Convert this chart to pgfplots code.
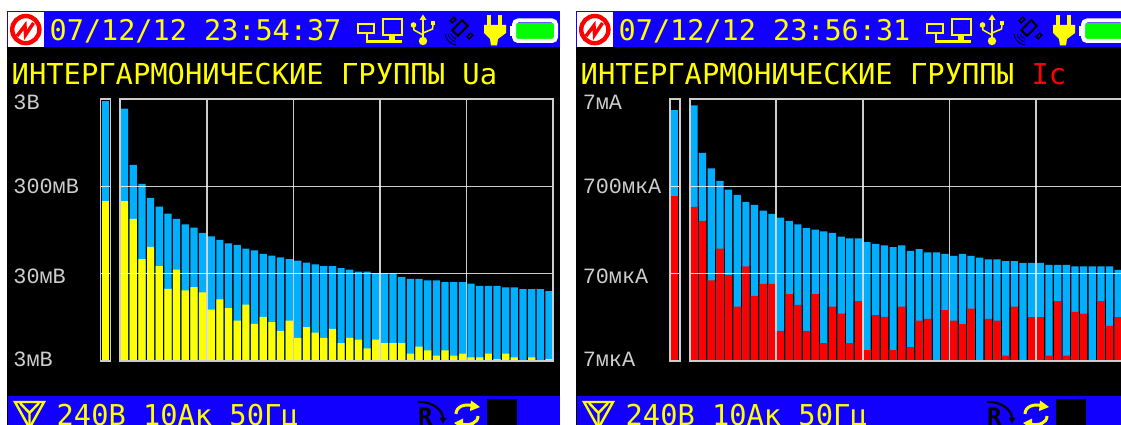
\documentclass[border=0pt]{standalone}
\usepackage{pgfplots}
\usepackage{pgfplotstable}
\usepackage{fontspec}
\pgfplotsset{compat=1.18}
\usetikzlibrary{arrows.meta}
\newfontfamily\hud{DejaVu Sans Mono}
\newfontfamily\lab{Liberation Mono}
\definecolor{hblue}{RGB}{18,0,255}
\definecolor{bblue}{RGB}{0,176,255}
\definecolor{yy}{RGB}{255,255,0}
\definecolor{rr}{RGB}{255,0,0}
\definecolor{gg}{RGB}{0,255,0}
\definecolor{fr}{RGB}{205,205,205}

% columns: x, all groups (blue), selected harmonic groups (front colour); Ua in mV
\pgfplotstableread{
x b f
0.5 2325 203
1.5 529 127
2.5 320 44.1
3.5 221 60.6
4.5 176 36.7
5.5 146 20.1
6.5 127 33.3
7.5 110 19.3
8.5 101 21.0
9.5 87.7 18.3
10.5 80.2 11.6
11.5 72.9 15.2
12.5 66.7 12.1
13.5 63.9 8.71
14.5 58.0 13.3
15.5 55.5 7.98
16.5 50.7 9.6
17.5 48.2 8.34
18.5 46.1 6.63
19.5 44.1 8.71
20.5 42.2 5.51
21.5 40.0 7.31
22.5 38.3 6.34
23.5 36.7 5.51
24.5 36.7 6.99
25.5 34.8 4.79
26.5 33.3 5.51
27.5 31.6 5.28
28.5 31.6 4.19
29.5 30.2 5.28
30.5 30.2 4.79
31.5 30.2 4.79
32.5 27.6 4.79
33.5 26.2 3.64
34.5 26.2 4.38
35.5 25.1 3.98
36.5 25.1 3.46
37.5 24.0 3.98
38.5 24.0 3.46
39.5 24.0 3.64
40.5 23.0 3.31
41.5 21.8 3.31
42.5 21.8 3.64
43.5 21.8 3.16
44.5 20.9 3.64
45.5 20.9 3.31
46.5 20.0 3.0
47.5 20.0 3.31
48.5 20.0 3.0
49.5 18.9 3.16
}\tableUa

% Ic in microamperes
\pgfplotstableread{
x b f
0.5 5930 407
1.5 1695 281
2.5 1120 58.5
3.5 809 135
4.5 643 67.4
5.5 559 29.4
6.5 465 84.7
7.5 428 39.0
8.5 369 53.6
9.5 338 53.6
10.5 307 15.5
11.5 281 40.8
12.5 257 30.8
13.5 233 15.5
14.5 223 40.8
15.5 214 11.2
16.5 205 29.4
17.5 186 24.4
18.5 178 11.2
19.5 178 33.9
20.5 161 9.3
21.5 154 23.4
22.5 148 22.4
23.5 141 9.3
24.5 148 29.4
25.5 128 10.1
26.5 134 20.3
27.5 123 21.3
28.5 123 7
29.5 118 26.7
30.5 112 20.3
31.5 118 18.5
32.5 112 27.9
33.5 107 7
34.5 102 21.3
35.5 102 20.3
36.5 97.6 8.07
37.5 97.6 29.4
38.5 93.3 7
39.5 93.3 22.2
40.5 93.3 22.2
41.5 88.5 8.07
42.5 88.5 33.9
43.5 88.5 8.07
44.5 84.7 25.6
45.5 84.7 24.4
46.5 84.7 7
47.5 84.7 33.9
48.5 84.7 17.7
49.5 77.6 22.2
}\tableIc

\pgfplotsset{
  hudaxis/.style={
    scale only axis, height=262pt,
    xmin=0, axis line style={draw=fr,line width=1.8pt},
    tick style={draw=none}, major tick length=0pt, yminorticks=false,
    ymajorgrids, grid style={white,opacity=.8,line width=1.5pt},
    axis on top, xticklabels={}, clip=true,
  },
  hudlabels/.style={
    yticklabel style={anchor=west,xshift=-107pt,text=fr,
      font=\lab\fontsize{21.8}{22}\selectfont,inner sep=0pt},
  },
}
\newcommand\ltick[2]{\raisebox{#1pt}[0pt][0pt]{#2}}

\newcommand\chrome[3]{%
\begin{scope}[shift={(#1pt,425pt)},x=1pt,y=-1pt]
  \fill[black] (7,11) rectangle (560,425);
  \fill[hblue] (7,11) rectangle (560,47.5);
  \fill[hblue] (8,396) rectangle (560,425);
  % logo
  \fill[white] (8,12.5) rectangle (43.5,47.5);
  \draw[rr,line width=4.4pt] (25.8,29.6) circle (13.6);
  \draw[rr,line width=3.4pt,line join=miter] (17,36) -- (25,25.5) -- (25.5,35) -- (33.5,23);
  \node[anchor=base west,inner sep=0pt,text=yy,font=\hud\fontsize{28.5}{30}\selectfont] at (49.5,40.5) {07/12/12 #2};
  % computer icons
  \draw[yy,line width=2.2pt] (358,24) rectangle (374,33);
  \draw[yy,line width=2.2pt] (367,33) -- (367,41.5) -- (390,41.5);
  \draw[yy,line width=2.6pt] (383,19) rectangle (402,35);
  \fill[yy] (389,35) rectangle (395,40);
  \fill[yy] (380,40) rectangle (402,43.5);
  % usb
  \draw[yy,line width=1.8pt] (423,18) -- (423,40);
  \fill[yy] (423,14.5) -- (419.5,20) -- (426.5,20) -- cycle;
  \fill[yy] (423,41) circle (4.2);
  \draw[yy,line width=1.5pt] (413.5,26) -- (414,30) -- (423,35);
  \draw[yy,line width=1.5pt] (433,25) -- (432.5,29) -- (423,33);
  \fill[yy] (413.5,25) circle (2.8);
  \fill[yy] (431,21) rectangle (435,25);
  % satellite
  \draw[black,line width=2pt,rotate around={45:(460,28)}] (453,24) rectangle (467,32);
  \draw[black,line width=1.4pt,rotate around={45:(453,20)}] (450.5,18.5) rectangle (455.5,21.5);
  \draw[black,line width=1.4pt,rotate around={45:(470,36)}] (467.5,34.5) rectangle (472.5,37.5);
  \draw[black,line width=.8pt] (445,34) .. controls (446,40) and (450,44) .. (456,45);
  \draw[black,line width=.8pt] (448,34) .. controls (449,38) and (452,41) .. (456,42);
  \draw[black,line width=.8pt] (451,34) .. controls (452,36) and (453,38) .. (456,39);
  % plug
  \fill[yy] (487,15) rectangle (491,26);
  \fill[yy] (498,15) rectangle (502,26);
  \fill[yy] (484,25) -- (506,25) -- (506,33) -- (498,39) -- (497,45.5) -- (491,45.5) -- (490,39) -- (484,33) -- cycle;
  % battery
  \fill[gg] (516,23) rectangle (555,39);
  \draw[white,line width=4pt,rounded corners=4pt] (514,20.5) rectangle (556,41);
  \fill[white] (510,26) rectangle (514,36);
  % title
  \node[anchor=base west,inner sep=0pt,text=yy,font=\hud\fontsize{28.8}{30}\selectfont] at (11.5,85) {ИНТЕРГАРМОНИЧЕСКИЕ ГРУППЫ #3};
  % status line
  \draw[yy,line width=2.4pt,line join=miter] (15,402) -- (44,402) -- (29.5,428) -- cycle;
  \draw[yy,line width=2.4pt] (20,403) -- (29.5,413) -- (39,403) (29.5,413) -- (29.5,428);
  \node[anchor=base west,inner sep=0pt,text=yy,font=\hud\fontsize{28.7}{30}\selectfont] at (56.5,426) {240В 10Ак 50Гц};
  \node[anchor=base west,inner sep=0pt,text=black,font=\hud\bfseries\fontsize{24}{24}\selectfont] at (418,426) {R};
  \draw[black,line width=2.2pt,-{Latex[length=6pt,width=7pt]}] (418,402) .. controls (432,401) and (443,410) .. (443,424);
  \draw[yy,line width=3pt] (456,414) .. controls (456,407) and (464,403) .. (474,406);
  \fill[yy] (471,400.5) -- (480,407) -- (470,411) -- cycle;
  \draw[yy,line width=3pt] (478,416) .. controls (478,423) and (470,426) .. (461,424);
  \fill[yy] (463,418.5) -- (454,423) -- (463,429) -- cycle;
  \fill[black] (487,399) rectangle (517,425);
\end{scope}}

\begin{document}
\begin{tikzpicture}
\path[use as bounding box] (0pt,0pt) rectangle (1121pt,425pt);
\fill[white] (0pt,0pt) rectangle (1121pt,425pt);
\chrome{0}{23:54:37}{Ua}
\chrome{569}{23:56:31}{{\color{rr}Ic}}

% --- left: Ua
\begin{semilogyaxis}[hudaxis, at={(100.4pt,64pt)}, anchor=south west, width=10pt,
  xmax=1, xtick=\empty, ymin=3, ymax=3000, ytick={3,30,300,3000}, yticklabels={}]
\addplot[ybar,bar shift=0pt,bar width=7.6pt,fill=bblue,draw=none] coordinates {(0.5,2825)};
\addplot[ybar,bar shift=0pt,bar width=7.6pt,fill=yy,draw=none] coordinates {(0.5,203)};
\end{semilogyaxis}
\begin{semilogyaxis}[hudaxis, hudlabels, at={(120.3pt,64pt)}, anchor=south west, width=433pt,
  xmax=50, xtick={0,10,20,30,40,50}, xmajorgrids,
  ymin=3, ymax=3000, ytick={3,30,300,3000},
  yticklabels={\ltick{-5.5}{3мВ},\ltick{-9.5}{30мВ},\ltick{-7.5}{300мВ},\ltick{-10.5}{3В}}]
\addplot[ybar,bar shift=0pt,bar width=7.2pt,fill=bblue,draw=none] table[x=x,y=b] {\tableUa};
\addplot[ybar,bar shift=0pt,bar width=7.2pt,fill=yy,draw=none] table[x=x,y=f] {\tableUa};
\end{semilogyaxis}

% --- right: Ic
\begin{semilogyaxis}[hudaxis, at={(669.6pt,64pt)}, anchor=south west, width=10pt,
  xmax=1, xtick=\empty, ymin=7, ymax=7000, ytick={7,70,700,7000}, yticklabels={}]
\addplot[ybar,bar shift=0pt,bar width=7.6pt,fill=bblue,draw=none] coordinates {(0.5,5190)};
\addplot[ybar,bar shift=0pt,bar width=7.6pt,fill=rr,draw=none] coordinates {(0.5,545)};
\end{semilogyaxis}
\begin{semilogyaxis}[hudaxis, hudlabels, at={(689.6pt,64pt)}, anchor=south west, width=433pt,
  xmax=50, xtick={0,10,20,30,40,50}, xmajorgrids,
  ymin=7, ymax=7000, ytick={7,70,700,7000},
  yticklabels={\ltick{-5.5}{7мкА},\ltick{-9.5}{70мкА},\ltick{-7.5}{700мкА},\ltick{-10.5}{7мА}}]
\addplot[ybar,bar shift=0pt,bar width=7.2pt,fill=bblue,draw=none] table[x=x,y=b] {\tableIc};
\addplot[ybar,bar shift=0pt,bar width=7.2pt,fill=rr,draw=none] table[x=x,y=f] {\tableIc};
\end{semilogyaxis}
\end{tikzpicture}
\end{document}
